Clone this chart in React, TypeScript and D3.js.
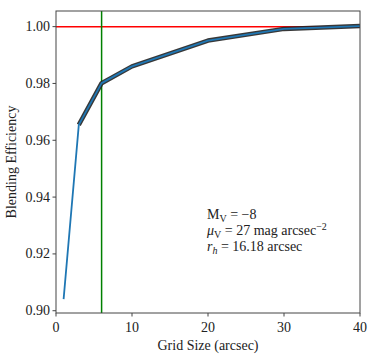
import React from "react";
import * as d3 from "d3";

const gridSizes = [1, 3, 6, 10, 20, 30, 40];
const efficiency = [0.9041, 0.9654, 0.9801, 0.986, 0.9951, 0.9992, 1.0002];
const xTicks = [0, 10, 20, 30, 40];
const yTicks = [0.9, 0.92, 0.94, 0.96, 0.98, 1.0];
const chosenGrid = 6;
const reference = 1.0;

const W = 374, H = 359;
const L = 56, R = 360, T = 11, B = 313;
const FONT = "Liberation Serif, DejaVu Serif, serif";
const FS = 14;

export default function App() {
  const x = d3.scaleLinear().domain([0, 40]).range([L, R]);
  const y = d3.scaleLinear().domain([0.8992, 1.0055]).range([B, T]);
  const pts = gridSizes.map((g, i) => [g, efficiency[i]] as [number, number]);
  const line = d3.line<[number, number]>().x(d => x(d[0])).y(d => y(d[1]));
  const outlined = pts.filter(p => p[0] >= 3);
  const axisColor = "#444";
  const ts = { fontFamily: FONT, fontSize: FS, fill: "#222" } as React.CSSProperties;
  return (
    <svg width={W} height={H} style={{ position: "absolute", left: 0, top: 0, background: "#fff", fontFamily: FONT }}>
      <defs>
        <clipPath id="plot"><rect x={L} y={T} width={R - L} height={B - T} /></clipPath>
      </defs>
      <g clipPath="url(#plot)">
        <line x1={L} x2={R} y1={y(reference)} y2={y(reference)} stroke="#ff0000" strokeWidth={1.5} />
        <line x1={x(chosenGrid)} x2={x(chosenGrid)} y1={T} y2={B} stroke="#008000" strokeWidth={1.5} />
        <path d={line(outlined) || ""} fill="none" stroke="#222" strokeWidth={4.5} strokeLinejoin="round" opacity={0.9} />
        <path d={line(pts) || ""} fill="none" stroke="#1f77b4" strokeWidth={1.8} strokeLinejoin="round" />
      </g>
      <rect x={L} y={T} width={R - L} height={B - T} fill="none" stroke={axisColor} strokeWidth={1} />
      {xTicks.map(t => (
        <g key={"x" + t}>
          <line x1={x(t)} x2={x(t)} y1={B} y2={B + 3.5} stroke={axisColor} />
          <text x={x(t)} y={B + 19} style={ts} textAnchor="middle">{t}</text>
        </g>
      ))}
      {yTicks.map(t => (
        <g key={"y" + t}>
          <line x1={L - 3.5} x2={L} y1={y(t)} y2={y(t)} stroke={axisColor} />
          <text x={L - 6} y={y(t) + 4.5} style={ts} textAnchor="end">{t.toFixed(2)}</text>
        </g>
      ))}
      <text x={(L + R) / 2} y={350} style={ts} textAnchor="middle">Grid Size (arcsec)</text>
      <text transform={`translate(16,${(T + B) / 2}) rotate(-90)`} style={ts} textAnchor="middle">Blending Efficiency</text>
      <text x={207} y={219} style={ts}>M<tspan fontSize={10} dy={3}>V</tspan><tspan dy={-3}> = −8</tspan></text>
      <text x={207} y={235} style={ts}><tspan fontStyle="italic">μ</tspan><tspan fontSize={10} dy={3}>V</tspan><tspan dy={-3}> = 27 mag arcsec</tspan><tspan fontSize={10} dy={-5}>−2</tspan></text>
      <text x={207} y={251} style={ts}><tspan fontStyle="italic">r</tspan><tspan fontSize={10} dy={3} fontStyle="italic">h</tspan><tspan dy={-3}> = 16.18 arcsec</tspan></text>
    </svg>
  );
}
